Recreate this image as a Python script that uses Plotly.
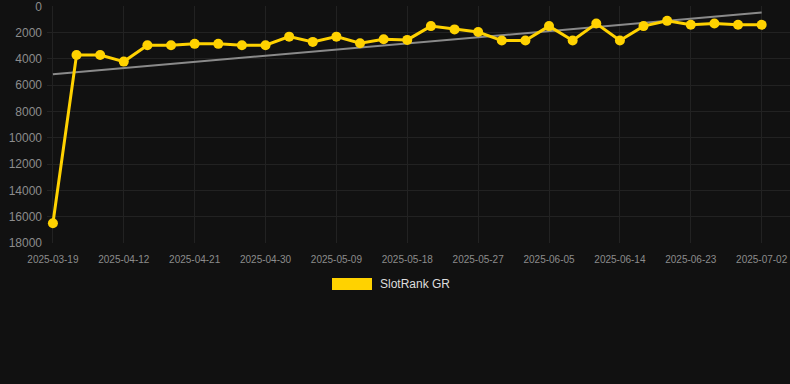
import numpy as np
import plotly.graph_objects as go

dates = ["2025-03-19", "2025-04-06", "2025-04-09", "2025-04-12", "2025-04-15", "2025-04-18",
         "2025-04-21", "2025-04-24", "2025-04-27", "2025-04-30", "2025-05-03", "2025-05-06",
         "2025-05-09", "2025-05-12", "2025-05-15", "2025-05-18", "2025-05-21", "2025-05-24",
         "2025-05-27", "2025-05-30", "2025-06-02", "2025-06-05", "2025-06-08", "2025-06-11",
         "2025-06-14", "2025-06-17", "2025-06-20", "2025-06-23", "2025-06-26", "2025-06-29",
         "2025-07-02"]
ranks = [16500, 3700, 3700, 4200, 2950, 2950, 2850, 2850, 2950, 2950, 2300, 2700,
         2300, 2800, 2500, 2550, 1500, 1750, 1950, 2600, 2600, 1500, 2600, 1300,
         2600, 1500, 1100, 1400, 1300, 1400, 1400]
y_ticks = [0, 2000, 4000, 6000, 8000, 10000, 12000, 14000, 16000, 18000]
series_name = "SlotRank GR"

idx = np.arange(len(ranks))
slope, intercept = np.polyfit(idx, np.array(ranks, dtype=float), 1)
trend = [intercept + slope * idx[0], intercept + slope * idx[-1]]

fig = go.Figure()
fig.add_trace(go.Scatter(x=[dates[0], dates[-1]], y=trend, mode="lines",
                         line=dict(color="#8a8a8a", width=2), showlegend=False,
                         hoverinfo="skip"))
fig.add_trace(go.Scatter(x=dates, y=ranks, mode="lines+markers", name=series_name,
                         line=dict(color="#FFD200", width=3),
                         marker=dict(color="#FFD200", size=10), showlegend=False))

fig.add_shape(type="rect", xref="paper", yref="paper",
              x0=(332 - 47) / 743, x1=(372 - 47) / 743,
              y0=-(278 - 243) / 237, y1=-(290 - 243) / 237,
              fillcolor="#FFD200", line=dict(width=0))
fig.add_annotation(text=series_name, xref="paper", yref="paper",
                   x=(378 - 47) / 743, y=-(284 - 243) / 237,
                   xanchor="left", yanchor="middle", showarrow=False,
                   font=dict(color="#dddddd", size=12, family="Liberation Sans, Arial"))

fig.update_layout(
    width=790, height=384,
    margin=dict(l=47, r=0, t=6, b=141),
    paper_bgcolor="#111111", plot_bgcolor="#111111",
    font=dict(family="Liberation Sans, Arial", color="#8c8c8c"),
    showlegend=False,
)
fig.update_xaxes(type="category", categoryorder="array", categoryarray=dates,
                 range=[-0.25, 31.2], tickmode="array",
                 tickvals=dates[::3], ticktext=dates[::3],
                 tickfont=dict(size=10, color="#8c8c8c"), ticklabelstandoff=9,
                 ticklabeloverflow="allow",
                 showgrid=True, gridcolor="#222222", gridwidth=1,
                 showline=False, zeroline=False, ticks="")
fig.update_yaxes(range=[18000, -30], tickmode="array", tickvals=y_ticks,
                 ticktext=[str(v) for v in y_ticks],
                 tickfont=dict(size=12, color="#8c8c8c"), ticklabelstandoff=4,
                 ticklabeloverflow="allow",
                 showgrid=True, gridcolor="#222222", gridwidth=1,
                 zeroline=False, showline=False, ticks="")

fig.write_html("out.html", config={"displayModeBar": False},
               post_script="document.body.style.margin='0';document.body.style.background='#111111';")
